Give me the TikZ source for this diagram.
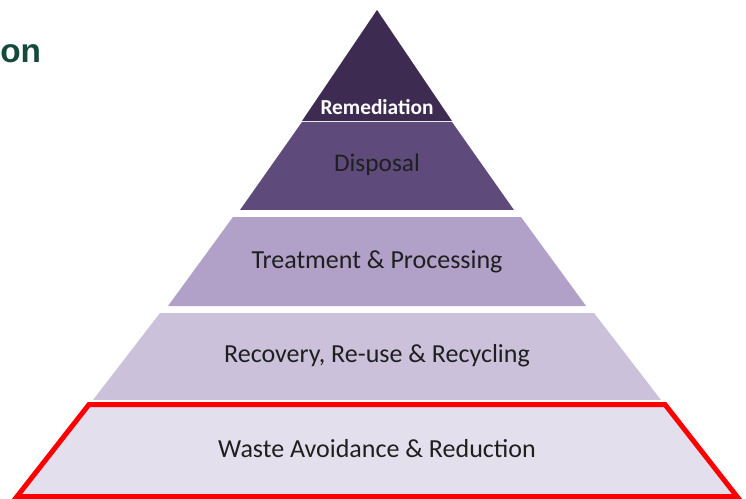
\documentclass[tikz,border=0pt]{standalone}
\usepackage{fontspec}
\usepackage{xcolor}
\setmainfont{Carlito}
\newfontfamily\headfont{Liberation Sans}
\usetikzlibrary{positioning}
\definecolor{remcol}{HTML}{3D2B52}
\definecolor{dispcol}{HTML}{5F4B7B}
\definecolor{treatcol}{HTML}{B1A0C7}
\definecolor{reccol}{HTML}{CCC1DA}
\definecolor{wastecol}{HTML}{E4DFEC}
\definecolor{headcol}{HTML}{144A3C}

\begin{document}
\begin{tikzpicture}[x=0.75pt, y=-0.75pt]
  \tikzset{lvl/.style={font=\fontsize{19.5}{22}\selectfont, text=black!88, inner sep=0pt, anchor=base}}

  \useasboundingbox (0,0) rectangle (746,499);

  \def\C{377}

  \node[font=\headfont\bfseries\fontsize{25}{30}\selectfont, text=headcol, inner sep=0pt, anchor=base west] (head) at (0,63) {on};

  % the five levels, top to bottom
  \fill[remcol] (\C,10) -- (\C+75,121) -- (\C-75,121) -- cycle;
  \fill[dispcol] (\C-75,122) -- (\C+75,122) -- (\C+137,210) -- (\C-137,210) -- cycle;
  \fill[treatcol] (\C-144,217) -- (\C+144,217) -- (\C+209,306) -- (\C-209,306) -- cycle;
  \fill[reccol] (\C-217,313) -- (\C+217,313) -- (\C+284,400) -- (\C-284,400) -- cycle;
  \filldraw[fill=wastecol, draw=red, line width=3.75pt] (\C-288,404.5) -- (\C+288,404.5) -- (\C+360,496.5) -- (\C-360,496.5) -- cycle;

  \node[lvl, font=\bfseries\fontsize{16}{19}\selectfont, text=white] (rem) at (\C,115) {Remediation};
  \node[lvl, font=\fontsize{19}{22}\selectfont] (disp) at (\C,172) {Disposal};
  \node[lvl] (treat) at (\C,268) {Treatment \& Processing};
  \node[lvl] (rec) at (\C,362) {Recovery, Re-use \& Recycling};
  \node[lvl] (waste) at (\C,457) {Waste Avoidance \& Reduction};
\end{tikzpicture}
\end{document}
